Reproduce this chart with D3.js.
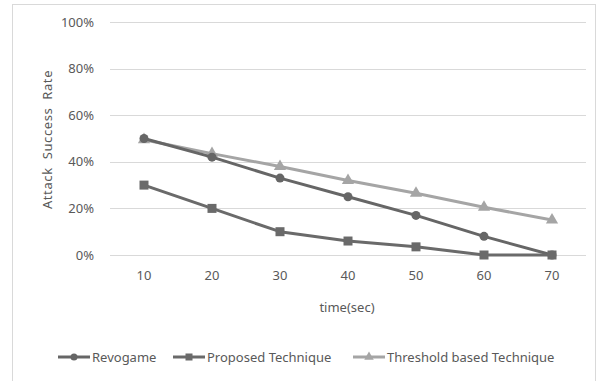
<!DOCTYPE html>
<html>
<head>
<meta charset="utf-8">
<script src="https://cdn.jsdelivr.net/npm/d3@7"></script>
<style>
  body { margin: 0; background: #fff; }
  text { font-family: "Noto Sans", "Open Sans", sans-serif; fill: #595959; }
</style>
</head>
<body>
<div id="chart"></div>
<script>
var times = ["10", "20", "30", "40", "50", "60", "70"];
var revogame = [50, 42, 33, 25, 17, 8, 0];
var proposed = [30, 20, 10, 6, 3.5, 0, 0];
var threshold = [49.5, 43.5, 38, 32, 26.5, 20.5, 15];
var yTicks = [0, 20, 40, 60, 80, 100];

var series = [
    { name: "Revogame", values: revogame, color: "#666666", shape: "circle" },
    { name: "Proposed Technique", values: proposed, color: "#6a6a6a", shape: "square" },
    { name: "Threshold based Technique", values: threshold, color: "#a5a5a5", shape: "triangle" }
];

var W = 602, H = 381;
var margin = { left: 110, right: 16, top: 22, bottom: 126 };

var svg = d3.select("#chart").append("svg")
    .attr("width", W)
    .attr("height", H);

// outer frame
svg.append("rect")
    .attr("x", 12.5).attr("y", 4.5)
    .attr("width", 583).attr("height", 380)
    .attr("fill", "none")
    .attr("stroke", "#d9d9d9");

var x = d3.scaleBand()
    .domain(times)
    .range([margin.left, W - margin.right]);

var y = d3.scaleLinear()
    .domain([0, 100])
    .range([H - margin.bottom, margin.top]);

// gridlines
svg.append("g")
    .selectAll("line")
    .data(yTicks)
    .enter().append("line")
    .attr("x1", margin.left)
    .attr("x2", W - margin.right)
    .attr("y1", function(d) { return Math.round(y(d)) + 0.5; })
    .attr("y2", function(d) { return Math.round(y(d)) + 0.5; })
    .attr("stroke", "#d9d9d9")
    .attr("stroke-width", 1);

var yAxis = svg.append("g")
    .attr("transform", "translate(" + (margin.left - 13) + ",0)")
    .call(d3.axisLeft(y).tickValues(yTicks).tickSize(0).tickFormat(function(d) { return d + "%"; }));
yAxis.select(".domain").remove();
yAxis.selectAll("text").attr("font-size", "13px").attr("fill", "#595959");

var xAxis = svg.append("g")
    .attr("transform", "translate(0,268)")
    .call(d3.axisBottom(x).tickSize(0));
xAxis.select(".domain").remove();
xAxis.selectAll("text").attr("font-size", "13px").attr("fill", "#595959");

svg.append("text")
    .attr("x", 347)
    .attr("y", 312)
    .attr("text-anchor", "middle")
    .attr("font-size", "13px")
    .text("time(sec)");

svg.append("text")
    .attr("transform", "translate(52," + ((62 + 217) / 2) + ") rotate(-90)")
    .attr("text-anchor", "middle")
    .attr("font-size", "13px")
    .attr("letter-spacing", "0.6px")
    .attr("word-spacing", "4px")
    .text("Attack Success Rate");

var line = d3.line()
    .x(function(d, i) { return x(times[i]) + x.bandwidth() / 2; })
    .y(function(d) { return y(d); });

function marker(sel, shape, color, size) {
    if (shape === "circle") {
        sel.append("circle").attr("r", size / 2).attr("fill", color);
    } else if (shape === "square") {
        sel.append("rect")
            .attr("x", -size / 2).attr("y", -size / 2)
            .attr("width", size).attr("height", size)
            .attr("fill", color);
    } else {
        sel.append("path")
            .attr("d", d3.symbol().type(d3.symbolTriangle).size(size * size * 0.8)())
            .attr("fill", color);
    }
}

// threshold drawn first so the darker lines sit on top
var order = [series[2], series[0], series[1]];
order.forEach(function(s) {
    svg.append("path")
        .attr("d", line(s.values))
        .attr("fill", "none")
        .attr("stroke", s.color)
        .attr("stroke-width", 3)
        .attr("stroke-linejoin", "round");
    s.values.forEach(function(v, i) {
        var g = svg.append("g")
            .attr("transform", "translate(" + (x(times[i]) + x.bandwidth() / 2) + "," + y(v) + ")");
        marker(g, s.shape, s.color, 9);
    });
});

// legend
var legendX = [58, 173, 353];
series.forEach(function(s, i) {
    var g = svg.append("g").attr("transform", "translate(" + legendX[i] + ",357)");
    g.append("line")
        .attr("x1", 0).attr("x2", 32)
        .attr("stroke", s.color)
        .attr("stroke-width", 3);
    var m = g.append("g").attr("transform", "translate(16,0)");
    marker(m, s.shape, s.color, 7);
    g.append("text")
        .attr("x", 34)
        .attr("y", 4.5)
        .attr("font-size", "13px")
        .text(s.name);
});
</script>
</body>
</html>
